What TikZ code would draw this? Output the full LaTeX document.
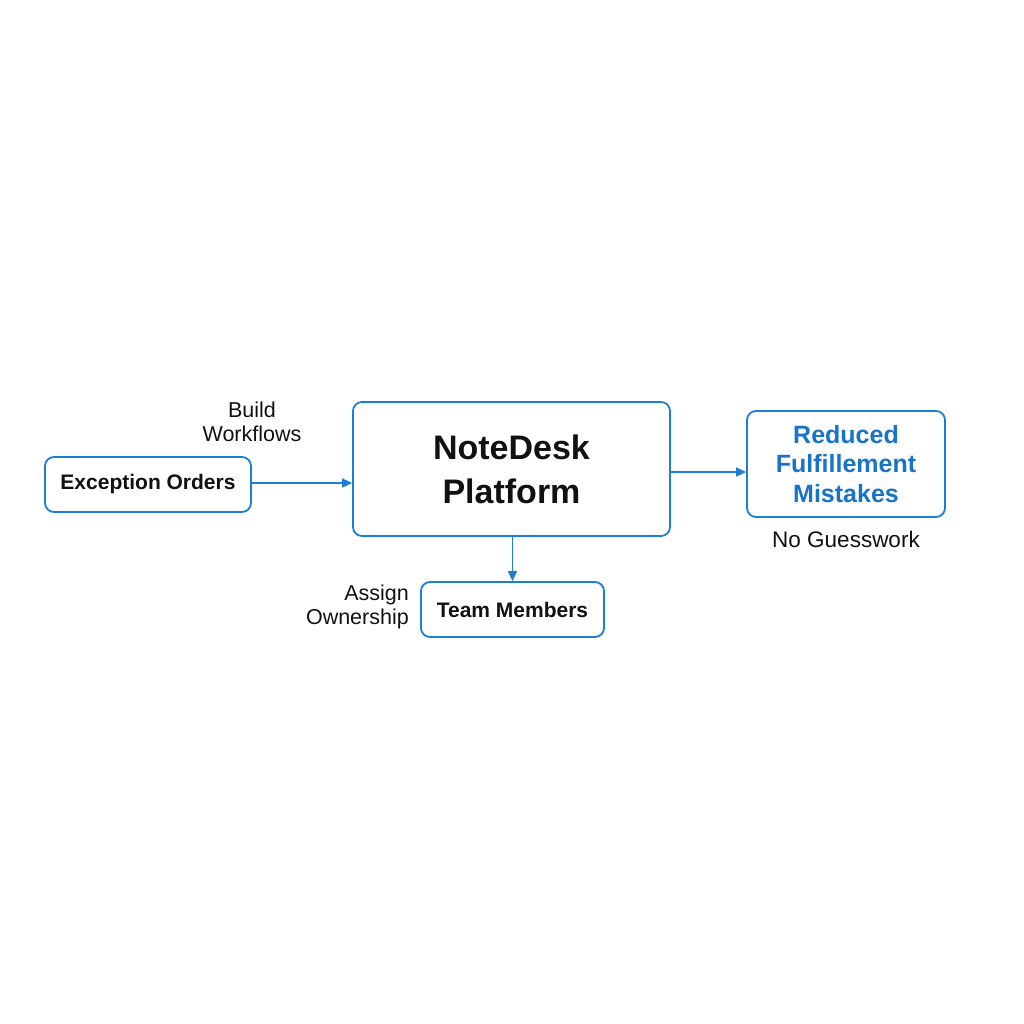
\documentclass[tikz,border=0pt]{standalone}
\usepackage{fontspec}
\setmainfont{Liberation Sans}
\usetikzlibrary{arrows.meta}
\definecolor{bl}{RGB}{28,126,212}
\definecolor{bltext}{RGB}{25,115,200}
\definecolor{ink}{RGB}{17,17,17}
\begin{document}
\begin{tikzpicture}[x=1pt,y=-1pt,
  box/.style={draw=bl,line width=1.8pt,rounded corners=9pt,fill=white,inner sep=0pt,align=center,text=ink},
  conn/.style={draw=bl,line width=1.5pt,-{Triangle[length=10pt,width=9pt]}},
  lbl/.style={text=ink,font=\fontsize{21.5}{24.5}\selectfont,inner sep=0pt}]
\useasboundingbox (0,0) rectangle (1024,1024);
\node[box,minimum width=206pt,minimum height=55pt,font=\bfseries\fontsize{21}{24}\selectfont] (exc) at (148,484.5) {Exception Orders};
\node[box,minimum width=317pt,minimum height=134pt,font=\bfseries\fontsize{34}{44}\selectfont,align=center] (nd) at (511.5,469) {NoteDesk\\Platform};
\node[box,minimum width=198pt,minimum height=106pt,font=\bfseries\fontsize{25}{29.5}\selectfont,text=bltext] (red) at (846,464) {Reduced\\Fulfillement\\Mistakes};
\node[box,minimum width=183pt,minimum height=55pt,font=\bfseries\fontsize{21}{24}\selectfont] (team) at (512.5,609.5) {Team Members};
\coordinate (a1) at (251,483);
\coordinate (a3) at (700,472);
\draw[conn] (exc.east |- a1) -- (nd.west |- a1);
\draw[conn] (nd.east |- a3) -- (red.west |- a3);
\draw[conn] (nd.south -| team.north) -- (team.north);
\node[lbl,align=center] (bw) at (252,422) {Build\\Workflows};
\node[lbl,align=right,anchor=east] (ao) at (409,607) {Assign\\Ownership};
\node[lbl,font=\fontsize{22.5}{26}\selectfont] (ng) at (846,539) {No Guesswork};
\end{tikzpicture}
\end{document}
